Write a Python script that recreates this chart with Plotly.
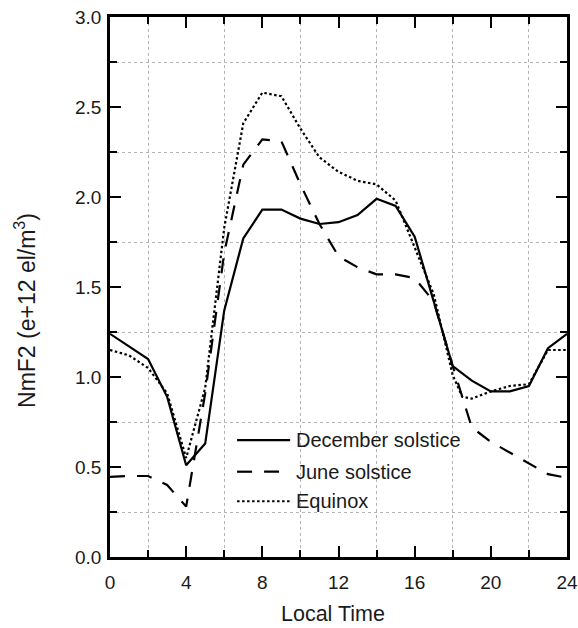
import plotly.graph_objects as go

# ---- data ----
hours = list(range(25))
december = [1.24, 1.17, 1.10, 0.89, 0.51, 0.63, 1.37, 1.77, 1.93, 1.93, 1.88, 1.85, 1.86,
            1.90, 1.99, 1.95, 1.78, 1.42, 1.06, 0.98, 0.92, 0.92, 0.95, 1.16, 1.24]
june = [0.445, 0.45, 0.45, 0.40, 0.28, 0.91, 1.69, 2.18, 2.32, 2.31, 2.07, 1.85, 1.67,
        1.61, 1.57, 1.57, 1.55, 1.42, 1.06, 0.72, 0.64, 0.58, 0.52, 0.46, 0.44]
hours_eq = [0, 1, 2, 3, 4, 5, 6, 7, 8, 9, 10, 11, 12, 13, 14, 15, 16, 17, 18, 18.5,
            19, 20, 21, 22, 23, 24]
equinox = [1.15, 1.12, 1.05, 0.91, 0.55, 0.94, 1.83, 2.41, 2.58, 2.56, 2.38, 2.22, 2.14,
           2.09, 2.07, 1.98, 1.72, 1.46, 1.01, 0.89, 0.88, 0.92, 0.95, 0.96, 1.15, 1.15]

series_names = ["December solstice", "June solstice", "Equinox"]
series_dash = ["solid", "15px,12px", "2.5px,2.5px"]

FONT = "Liberation Sans, Arial, sans-serif"
INK = "#1a1a1a"

fig = go.Figure()
for name, xs, ys, dash in zip(series_names, [hours, hours, hours_eq],
                              [december, june, equinox], series_dash):
    fig.add_trace(go.Scatter(x=xs, y=ys, mode="lines", name=name, showlegend=False,
                             line=dict(color="black", width=2.2, dash=dash)))

# ---- custom legend (long line samples like the reference) ----
L = 110.0
W = 456.7
B = 556.7
H = 539.4
def px(xp):
    return (xp - L) / W
def py(yp):
    return (B - yp) / H

legend_rows = [440, 471.5, 501]
for name, dash, yr in zip(series_names, series_dash, legend_rows):
    fig.add_shape(type="line", xref="paper", yref="paper",
                  x0=px(237), x1=px(290), y0=py(yr), y1=py(yr),
                  line=dict(color="black", width=2.2, dash=dash))
    fig.add_annotation(xref="paper", yref="paper", x=px(294), y=py(yr),
                       text=name, showarrow=False, xanchor="left", yanchor="middle",
                       font=dict(family=FONT, size=20, color=INK))

# axis titles
fig.add_annotation(xref="paper", yref="paper", x=px(25), y=py(310),
                   text="NmF2 (e+12 el/m<sup>3</sup>)", textangle=-90, showarrow=False,
                   xanchor="center", yanchor="middle",
                   font=dict(family=FONT, size=23, color=INK))
fig.add_annotation(xref="paper", yref="paper", x=px(333), y=py(614),
                   text="Local Time", showarrow=False, xanchor="center", yanchor="middle",
                   font=dict(family=FONT, size=21.5, color=INK))

axis_common = dict(
    showline=True, linecolor="black", linewidth=2.5, mirror="ticks",
    ticks="inside", ticklen=11, tickwidth=2, tickcolor="black",
    showgrid=False, zeroline=False, automargin=False,
    tickfont=dict(family=FONT, size=19, color=INK),
)

fig.update_xaxes(range=[0, 24], tick0=0, dtick=4, ticklabelstandoff=6,
                 minor=dict(dtick=2, ticks="inside", ticklen=7, tickwidth=2,
                            tickcolor="black", showgrid=True, gridcolor="#b5b5b5",
                            gridwidth=1, griddash="dot"),
                 **axis_common)
fig.update_yaxes(range=[0, 3], tick0=0, dtick=0.5, tickformat=".1f", ticklabelstandoff=2,
                 minor=dict(dtick=0.25, ticks="inside", ticklen=7, tickwidth=2,
                            tickcolor="black", showgrid=True, gridcolor="#b5b5b5",
                            gridwidth=1, griddash="dot"),
                 **axis_common)

fig.update_layout(
    width=578, height=628,
    margin=dict(l=110, r=11, t=17, b=71),
    paper_bgcolor="white", plot_bgcolor="white",
    font=dict(family=FONT, color=INK),
)

fig.write_html("out.html", config={"displayModeBar": False},
               post_script="document.body.style.margin='0';document.body.style.overflow='hidden';")
